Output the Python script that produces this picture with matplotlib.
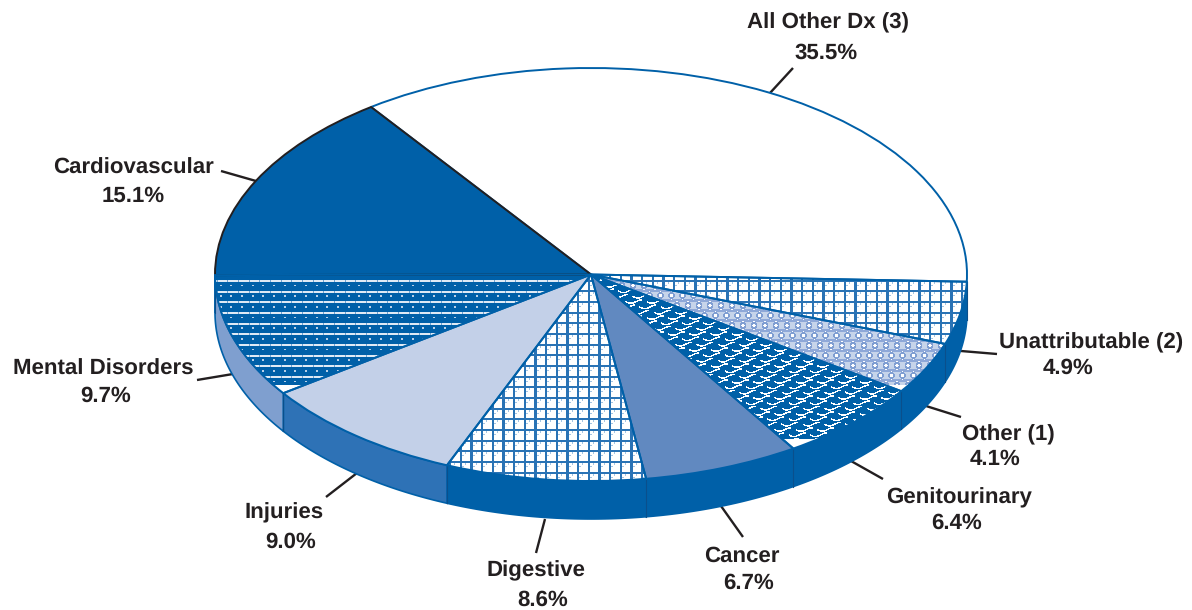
"""Pie of diagnosis shares drawn as a tilted disc with a side wall."""

import matplotlib

matplotlib.use("Agg")
import matplotlib.pyplot as plt
import numpy as np

plt.rcParams["text.hinting"] = "none"

W, H = 1192, 610
CX, CY, RX, RY = 591, 274.5, 376, 206.5
DEPTH = 38 / RY
START = -2

categories = ["All Other Dx (3)", "Cardiovascular", "Mental Disorders", "Injuries", "Digestive",
              "Cancer", "Genitourinary", "Other (1)", "Unattributable (2)"]
shares = [35.5, 15.1, 9.7, 9.0, 8.6, 6.7, 6.4, 4.1, 4.9]

BLUE = "#0060a8"
INK = "#231f20"
face_colors = ["#ffffff", BLUE, "#ffffff", "#c3d0e8", "#ffffff", "#6189c0", "#ffffff", "#ffffff", "#ffffff"]
wall_colors = [BLUE, BLUE, "#7f9fcf", "#2e72b6", BLUE, BLUE, BLUE, BLUE, BLUE]

# label text anchors in pixels: name centre, name y, value centre, value y
label_pos = [(828, 23, 826, 53), (133, 168, 133, 196), (103, 369, 106, 396), (284, 513, 291, 542),
             (536, 571, 543, 600), (742, 556, 749, 583), (959, 498, 957, 523), (1008, 435, 995, 459),
             (1091, 343, 1068, 368)]
leaders = [((770, 93), (793, 68)), ((256, 181), (221, 171)), ((233, 374), (197, 380)), ((357, 473), (326, 497)),
           ((545, 519), (536, 553)), ((721, 506), (743, 537)), ((851, 461), (883, 479)), ((926, 406), (961, 417)),
           ((961, 351), (997, 354))]


def px(x, y):
    return (x - CX) / RX, (CY - y) / RY


def rgb(hex_color):
    return np.array(matplotlib.colors.to_rgb(hex_color))


yy, xx = np.mgrid[0:H, 0:W].astype(float)
STEP = 32 / 3


def grid_texture():
    img = np.ones((H, W, 3))
    minor_x = ((xx - 6) % STEP < 1) & ((yy - 4) % STEP < 2)
    minor_y = ((yy - 7) % STEP < 1) & ((xx - 3) % STEP < 2)
    img[minor_x | minor_y] = rgb("#a4c4e2")
    img[(xx - 0.5) % STEP < 2.2] = rgb("#2a73b5")
    img[(yy - 2) % STEP < 2] = rgb("#2a73b5")
    return img


def lines_texture():
    img = np.ones((H, W, 3)) * rgb(BLUE)
    row = ((yy - 279.5) % STEP < 2) & (yy > 276)
    img[row] = rgb("#dfeaf5")
    img[row & ((xx - 3) % STEP < 1)] = rgb("#6ea2d0")
    dots = (np.abs((yy - 279.5) % STEP - 5.5) < 0.8) & ((xx - 6) % STEP < 2) & (yy > 276)
    img[dots] = rgb("#b8d0e8")
    img[yy >= 385] = 1
    return img


def wave_texture():
    img = np.ones((H, W, 3)) * rgb(BLUE)
    rows = np.floor(yy / 5.33)
    phase = (xx + rows * 7.1) % 21.3
    bend = 1.7 * np.sin(2 * np.pi * phase / 21.3)
    hit = (np.abs(yy % 5.33 - 2.6 - bend) < 0.8) & (phase < 17)
    img[hit] = 1
    img[yy >= 439] = 1
    return img


def flake_texture():
    img = np.ones((H, W, 3)) * rgb("#c6d4ea")
    row_h = 10.0
    rows = np.floor(yy / row_h)
    fx = (xx + rows * 5.5) % 11 - 5.5
    fy = yy % row_h - row_h / 2
    d = np.hypot(fx, fy)
    img[np.abs(fy) > 3.4] = rgb("#8ea8d8")
    img[(d > 1.5) & (d < 3.4)] = rgb("#7f9ed2")
    img[d <= 1.5] = 1
    img[(np.abs(fx) < 0.6) & (d < 4.6) & (d >= 3.4)] = 1
    img[yy >= 385] = 1
    return img


textures = {2: lines_texture(), 4: grid_texture(), 6: wave_texture(), 7: flake_texture(), 8: grid_texture()}

fig = plt.figure(figsize=(W / 100, H / 100), dpi=100)
ax = fig.add_axes([0, 0, 1, 1])
extent = (-CX / RX, (W - CX) / RX, (CY - H) / RY, CY / RY)

# side wall, only the front half of each slice shows
edges = START - np.cumsum([0] + shares[::-1]) * 3.6
for i, k in enumerate(range(len(shares) - 1, -1, -1)):
    t0, t1 = edges[i], max(edges[i + 1], -180)
    if t0 <= t1:
        continue
    t = np.radians(np.linspace(t0, t1, 60))
    wall_x = np.r_[np.cos(t), np.cos(t[::-1])]
    wall_y = np.r_[np.sin(t), np.sin(t[::-1]) - DEPTH]
    ax.fill(wall_x, wall_y, facecolor=wall_colors[k], edgecolor=BLUE, linewidth=1.2, zorder=1)
    # thin seam where the walls meet
    ax.plot([np.cos(t[0])] * 2, [np.sin(t[0]), np.sin(t[0]) - DEPTH], color="#0a4f8c", linewidth=0.8, zorder=1.5)

wedges, _ = ax.pie(shares, colors=face_colors, startangle=START, counterclock=True,
                   wedgeprops={"linewidth": 0, "zorder": 2})
for k, tex in textures.items():
    im = ax.imshow(tex, extent=extent, origin="upper", aspect="auto", interpolation="nearest", zorder=3)
    im.set_clip_path(wedges[k])

outlines, _ = ax.pie(shares, colors=face_colors, startangle=START, counterclock=True,
                     wedgeprops={"linewidth": 1.4, "edgecolor": BLUE, "fill": False, "zorder": 6})
outlines[0].set_zorder(4)
outlines[1].set_edgecolor(INK)
outlines[1].set_zorder(5)

for (a, b) in leaders:
    pa, pb = px(*a), px(*b)
    ax.plot([pa[0], pb[0]], [pa[1], pb[1]], color=INK, linewidth=1.7, zorder=0, solid_capstyle="butt")

for name, val, (x1, y1, x2, y2) in zip(categories, shares, label_pos):
    ax.text(*px(x1, y1), name, ha="center", va="center", fontsize=16, fontweight="bold",
            family="Liberation Sans", color=INK, zorder=8)
    ax.text(*px(x2, y2), f"{val:.1f}%", ha="center", va="center", fontsize=16, fontweight="bold",
            family="Liberation Sans", color=INK, zorder=8)

ax.set_aspect("auto")
ax.set_xlim(extent[0], extent[1])
ax.set_ylim(extent[2], extent[3])
ax.axis("off")

fig.savefig("out.png", dpi=100)
plt.close(fig)
